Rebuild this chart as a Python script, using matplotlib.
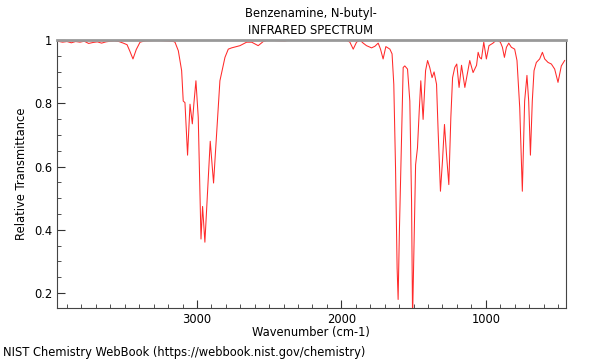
import matplotlib
matplotlib.use("Agg")
import matplotlib.pyplot as plt
from matplotlib.ticker import MultipleLocator, FormatStrFormatter

# values (wavenumber, transmittance)
wavenumber = [3965, 3930, 3900, 3870, 3840, 3810, 3780, 3750, 3720, 3690,
              3660, 3630, 3600, 3570, 3540, 3510, 3484, 3465, 3443, 3420,
              3394, 3360, 3300, 3250, 3200, 3166, 3152, 3129, 3106, 3095,
              3083, 3065, 3048, 3032, 3021, 3007, 2991, 2972, 2961, 2945,
              2926, 2908, 2885, 2864, 2841, 2806, 2783, 2760, 2702, 2656,
              2621, 2576, 2541, 2507, 2450, 2391, 2356, 2300, 2218, 2100,
              1964, 1941, 1918, 1895, 1872, 1849, 1826, 1791, 1768, 1745,
              1729, 1711, 1692, 1664, 1649, 1637, 1625, 1614, 1607, 1598,
              1588, 1572, 1561, 1542, 1526, 1514, 1507, 1496, 1486, 1473,
              1461, 1450, 1434, 1417, 1403, 1388, 1372, 1358, 1341, 1330,
              1314, 1300, 1286, 1272, 1256, 1242, 1230, 1215, 1201, 1185,
              1168, 1145, 1133, 1111, 1088, 1064, 1053, 1042, 1030, 1014,
              996, 978, 950, 926, 899, 885, 871, 857, 841, 823,
              800, 784, 765, 747, 731, 715, 703, 691, 678, 666,
              650, 627, 608, 592, 569, 546, 523, 500, 477, 454]
transmittance = [0.996, 0.993, 0.995, 0.991, 0.995, 0.993, 0.996, 0.989, 0.992, 0.994,
                 0.99, 0.994, 0.996, 0.997, 0.995, 0.99, 0.985, 0.965, 0.94, 0.97,
                 0.993, 0.997, 0.998, 0.998, 0.997, 0.996, 0.993, 0.966, 0.903, 0.807,
                 0.802, 0.636, 0.797, 0.735, 0.80, 0.871, 0.755, 0.371, 0.474, 0.361,
                 0.522, 0.680, 0.548, 0.702, 0.871, 0.945, 0.971, 0.975, 0.982, 0.993,
                 0.993, 0.982, 0.995, 1.0, 0.998, 0.997, 1.0, 0.999, 1.0, 1.0,
                 1.0, 0.993, 0.971, 0.993, 1.0, 0.99, 0.982, 0.975, 0.98, 0.99,
                 0.971, 0.94, 0.979, 0.971, 0.956, 0.86, 0.597, 0.279, 0.18, 0.40,
                 0.597, 0.913, 0.918, 0.908, 0.807, 0.49, 0.12, 0.384, 0.606, 0.659,
                 0.775, 0.871, 0.749, 0.903, 0.935, 0.913, 0.881, 0.899, 0.86, 0.712,
                 0.522, 0.617, 0.733, 0.638, 0.543, 0.755, 0.881, 0.913, 0.924, 0.85,
                 0.92, 0.85, 0.88, 0.935, 0.897, 0.92, 0.961, 0.945, 0.94, 0.993,
                 0.94, 0.982, 0.99, 1.0, 0.993, 0.977, 0.945, 0.977, 0.99, 0.977,
                 0.971, 0.935, 0.786, 0.522, 0.807, 0.888, 0.807, 0.636, 0.807, 0.903,
                 0.929, 0.94, 0.961, 0.94, 0.929, 0.924, 0.908, 0.866, 0.918, 0.935]

fig = plt.figure(figsize=(6, 3.6), dpi=100)
ax = fig.add_axes([0.095, 0.1444, 0.848, 0.7446])
ax.plot(wavenumber, transmittance, color="#ff2a2a", lw=0.75)

ax.set_xlim(3969, 446)
ax.set_ylim(0.153, 1.0)

ax.xaxis.set_major_locator(MultipleLocator(1000))
ax.xaxis.set_minor_locator(MultipleLocator(100))
ax.yaxis.set_major_locator(MultipleLocator(0.2))
ax.yaxis.set_minor_locator(MultipleLocator(0.05))
ax.yaxis.set_major_formatter(FormatStrFormatter("%g"))
ax.tick_params(which="both", direction="in", top=False, right=False,
               labelsize=8.3, color="#333333")
ax.tick_params(which="major", length=6)
ax.tick_params(which="minor", length=3)

for s in ("left", "bottom", "right"):
    ax.spines[s].set_color("#444444")
ax.spines["top"].set_color("#999999")
ax.spines["top"].set_linewidth(2)

ax.set_xlabel("Wavenumber (cm-1)", fontsize=8.3, labelpad=0)
ax.set_ylabel("Relative Transmittance", fontsize=8.3)

fig.text(0.518, 0.963, "Benzenamine, N-butyl-", ha="center", va="center", fontsize=8.3)
fig.text(0.518, 0.916, "INFRARED SPECTRUM", ha="center", va="center", fontsize=8.3)
fig.text(0.005, 0.02, "NIST Chemistry WebBook (https://webbook.nist.gov/chemistry)",
         ha="left", va="center", fontsize=8.3)

fig.savefig("out.png", dpi=100)
